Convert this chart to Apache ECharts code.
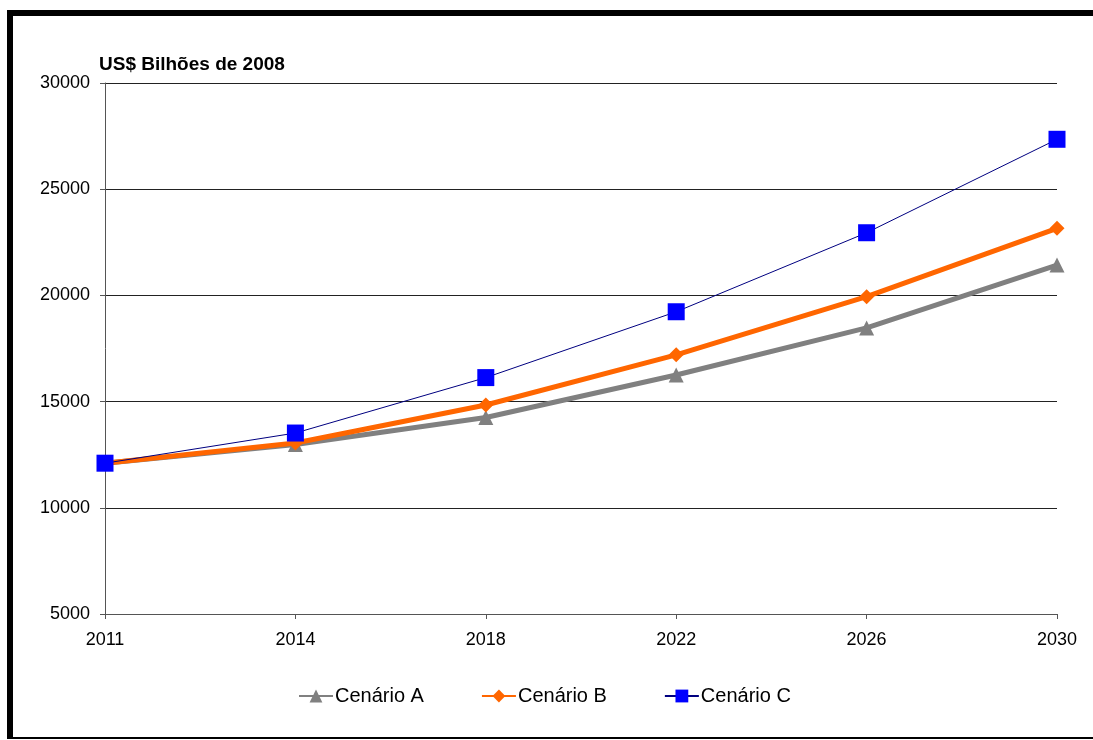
<!DOCTYPE html>
<html lang="pt">
<head>
<meta charset="utf-8">
<script src="https://cdn.jsdelivr.net/npm/echarts@6/dist/echarts.min.js"></script>
<style>
  html, body { margin: 0; padding: 0; background: #fff; }
  #chart { width: 1093px; height: 740px; }
  #frame {
    position: absolute; left: 7px; top: 10px; right: 0; bottom: 1px;
    border-left: 6px solid #000; border-top: 6px solid #000; border-bottom: 2px solid #000;
    pointer-events: none;
  }
</style>
</head>
<body>
<div id="chart"></div>
<div id="frame"></div>
<script>
const FONT = "Arial, 'Liberation Sans', sans-serif";
const years = ["2011", "2014", "2018", "2022", "2026", "2030"];
const cenarioA = [12100, 12980, 14250, 16250, 18470, 21430];
const cenarioB = [12100, 13050, 14840, 17200, 19940, 23160];
const cenarioC = [12100, 13520, 16130, 19230, 22950, 27350];

const chart = echarts.init(document.getElementById("chart"), null, { renderer: "canvas" });
chart.setOption({
  animation: false,
  backgroundColor: "#ffffff",
  textStyle: { fontFamily: FONT },
  grid: { left: 105, right: 36, top: 83, bottom: 126 },
  legend: {
    left: 293,
    top: 681,
    itemWidth: 34,
    itemHeight: 16,
    itemGap: 57,
    textStyle: { fontFamily: FONT, fontSize: 20, color: "#000", padding: [0, 0, 0, -3] },
    data: ["Cenário A", "Cenário B", "Cenário C"],
  },
  xAxis: {
    type: "category",
    data: years,
    boundaryGap: false,
    axisLine: { lineStyle: { color: "#555", width: 1 } },
    axisTick: { show: true, length: 5, lineStyle: { color: "#555" } },
    axisLabel: { fontFamily: FONT, fontSize: 18, color: "#000", margin: 17 },
    splitLine: { show: false },
  },
  yAxis: {
    type: "value",
    min: 5000,
    max: 30000,
    interval: 5000,
    name: "US$ Bilhões de 2008",
    nameLocation: "end",
    nameGap: 9,
    nameTextStyle: { fontFamily: FONT, fontSize: 19, fontWeight: "bold", color: "#000", align: "left", padding: [0, 0, 0, -6] },
    axisLine: { show: true, lineStyle: { color: "#555", width: 1 } },
    axisTick: { show: true, length: 5, lineStyle: { color: "#555" } },
    axisLabel: { fontFamily: FONT, fontSize: 18, color: "#000", margin: 15, formatter: (v) => String(v) },
    splitLine: { lineStyle: { color: "#222", width: 1 } },
  },
  series: [
    {
      name: "Cenário A",
      type: "line",
      data: cenarioA,
      symbol: "triangle",
      symbolSize: 15,
      lineStyle: { color: "#808080", width: 5 },
      itemStyle: { color: "#808080" },
    },
    {
      name: "Cenário B",
      type: "line",
      data: cenarioB,
      symbol: "diamond",
      symbolSize: 15,
      lineStyle: { color: "#FF6600", width: 5 },
      itemStyle: { color: "#FF6600" },
    },
    {
      name: "Cenário C",
      type: "line",
      data: cenarioC,
      symbol: "rect",
      symbolSize: 17,
      lineStyle: { color: "#000080", width: 1 },
      itemStyle: { color: "#0000FF" },
    },
  ],
});
</script>
</body>
</html>
